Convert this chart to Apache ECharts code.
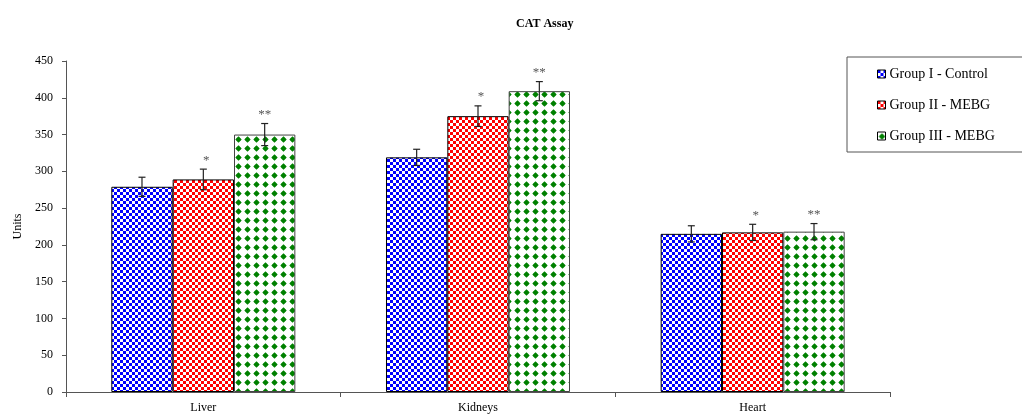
<!DOCTYPE html>
<html>
<head>
<meta charset="utf-8">
<script src="https://cdn.jsdelivr.net/npm/echarts@6/dist/echarts.min.js"></script>
<style>
  html, body { margin: 0; padding: 0; background: #fff; }
  #chart { width: 1022px; height: 417px; }
</style>
</head>
<body>
<div id="chart"></div>
<script>
const categories = ['Liver', 'Kidneys', 'Heart']
const groupNames = ['Group I - Control', 'Group II - MEBG', 'Group III - MEBG']
const group1 = [279, 319, 215]
const group2 = [289, 375, 217]
const group3 = [350, 409, 218]
const err1 = [13, 11, 11]
const err2 = [14, 14, 11]
const err3 = [15, 13, 11]
const marks = ['', '*', '**']

const FONT = '"Liberation Serif", "DejaVu Serif", serif'

function checker(color) {
  const c = document.createElement('canvas')
  c.width = 6; c.height = 6
  const ctx = c.getContext('2d')
  ctx.fillStyle = '#fff'
  ctx.fillRect(0, 0, 6, 6)
  ctx.fillStyle = color
  ctx.fillRect(0, 0, 3, 3)
  ctx.fillRect(3, 3, 3, 3)
  return { image: c, repeat: 'repeat' }
}

function dots(color) {
  const c = document.createElement('canvas')
  c.width = 9; c.height = 9
  const ctx = c.getContext('2d')
  ctx.fillStyle = '#fff'
  ctx.fillRect(0, 0, 9, 9)
  ctx.fillStyle = color
  ctx.beginPath()
  ctx.arc(4.5, 4.5, 2.1, 0, Math.PI * 2)
  ctx.fill()
  ctx.beginPath()
  ctx.moveTo(4.5, 1.3); ctx.lineTo(7.7, 4.5); ctx.lineTo(4.5, 7.7); ctx.lineTo(1.3, 4.5)
  ctx.closePath()
  ctx.fill()
  return { image: c, repeat: 'repeat' }
}

const fills = [checker('#0000ff'), checker('#ff0000'), dots('#008000')]
const values = [group1, group2, group3]
const errors = [err1, err2, err3]
const GAP = 0.33

function errorSeries(idx) {
  return {
    type: 'custom',
    name: groupNames[idx] + ' err',
    z: 5,
    data: categories.map((c, i) => [i, values[idx][i], errors[idx][i]]),
    renderItem(params, api) {
      const ci = api.value(0)
      const v = api.value(1)
      const e = api.value(2)
      const band = api.size([1, 0])[0]
      const bw = band * (1 - GAP) / 3
      const center = api.coord([ci, v])
      const x = center[0] + (idx - 1) * bw
      const top = api.coord([ci, v + e])[1]
      const bot = api.coord([ci, v - e])[1]
      const style = { stroke: '#222', lineWidth: 1.2 }
      const children = [
        { type: 'line', shape: { x1: x, y1: top, x2: x, y2: bot }, style },
        { type: 'line', shape: { x1: x - 3.5, y1: top, x2: x + 3.5, y2: top }, style },
        { type: 'line', shape: { x1: x - 3.5, y1: bot, x2: x + 3.5, y2: bot }, style }
      ]
      if (marks[idx]) {
        children.push({
          type: 'text',
          style: {
            x: x + (idx === 1 ? 3 : 0), y: top - 9, text: marks[idx],
            fill: '#555', font: '13px ' + FONT,
            textAlign: 'center', textVerticalAlign: 'middle'
          }
        })
      }
      return { type: 'group', children }
    }
  }
}

const chart = echarts.init(document.getElementById('chart'))
chart.setOption({
  animation: false,
  title: {
    text: 'CAT Assay', left: 511, top: 13,
    textStyle: { fontFamily: FONT, fontSize: 12, fontWeight: 'bold', color: '#000' }
  },
  legend: {
    data: groupNames.map((n, i) => ({ name: n, itemStyle: { color: fills[i], borderColor: '#000', borderWidth: 1 } })),
    orient: 'vertical',
    left: 847, top: 57,
    padding: [10, 28, 9, 30],
    itemGap: 17,
    itemWidth: 8, itemHeight: 8,
    icon: 'rect',
    borderColor: '#555', borderWidth: 1,
    textStyle: { fontFamily: FONT, fontSize: 14, color: '#000', padding: [0, 0, 0, -1] }
  },
  grid: { left: 66, right: 132, top: 61, bottom: 25 },
  xAxis: {
    type: 'category', data: categories,
    axisLine: { lineStyle: { color: '#555', width: 1 } },
    axisTick: { show: true, length: 5, lineStyle: { color: '#555' } },
    axisLabel: { color: '#000', fontFamily: FONT, fontSize: 12, margin: 10 }
  },
  yAxis: {
    type: 'value', min: 0, max: 450, interval: 50,
    name: 'Units', nameLocation: 'middle', nameGap: 42,
    nameTextStyle: { color: '#000', fontFamily: FONT, fontSize: 12 },
    axisLine: { show: true, lineStyle: { color: '#555', width: 1 } },
    axisTick: { show: true, length: 4, lineStyle: { color: '#555' } },
    axisLabel: { color: '#000', fontFamily: FONT, fontSize: 12, margin: 13 },
    splitLine: { show: false }
  },
  series: [
    ...groupNames.map((n, i) => ({
      name: n, type: 'bar', data: values[i],
      barGap: '0%', barCategoryGap: (GAP * 100) + '%',
      itemStyle: { color: fills[i], borderColor: i === 2 ? '#444' : '#000', borderWidth: 1 }
    })),
    errorSeries(0), errorSeries(1), errorSeries(2)
  ]
})
</script>
</body>
</html>
